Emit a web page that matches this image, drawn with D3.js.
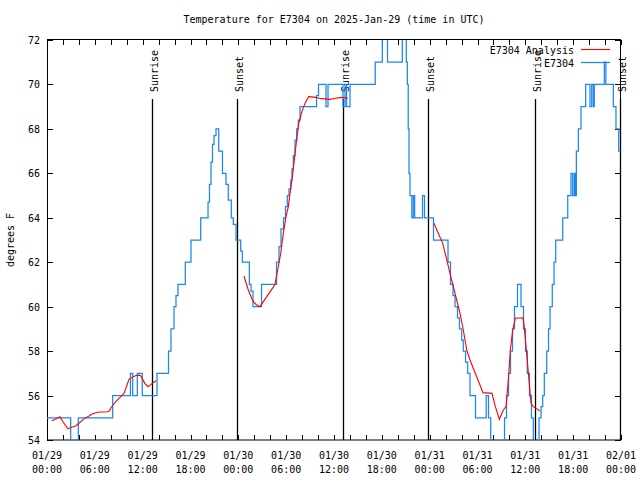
<!DOCTYPE html>
<html><head><meta charset="utf-8">
<script src="https://cdn.jsdelivr.net/npm/d3@7"></script>
<style>
body{margin:0;background:#fff}
svg{display:block;background:#fff}
text{font-family:"DejaVu Sans Mono","Liberation Mono",monospace;font-size:10px;fill:#000}
</style>
</head><body><svg id="c" width="640" height="480"></svg>
<script>
// ---- data (hours since 2025-01-29 00:00 UTC) ----
const blueHours = [0,2.97,3.16,3.68,3.93,8.24,10.47,10.75,11.33,11.95,13.8,15.24,15.55,15.93,16.18,16.43,17.35,18.06,19.28,20.2,20.38,20.57,20.76,20.95,21.2,21.54,22.01,22.45,22.74,23.12,23.37,23.71,24.3,24.5,25.38,25.59,25.84,26.91,28.79,29.1,29.35,29.67,29.92,30.14,30.36,30.57,30.73,30.9,31.11,31.32,31.52,31.74,33.81,34.06,35.0,35.25,37.13,37.38,37.57,38.01,41.17,42.06,42.71,44.57,45.07,45.2,45.31,45.41,45.53,45.76,45.95,46.12,47.1,47.35,48.48,50.3,50.61,50.93,51.18,51.49,51.74,52.02,52.22,52.5,52.77,53.06,53.75,55.09,55.38,55.66,55.95,57.39,57.64,57.89,58.14,58.39,58.64,59.02,59.46,59.77,60.02,60.25,60.52,60.77,61.0,61.72,61.97,62.18,62.38,62.68,62.91,63.1,63.38,63.6,63.81,64.69,65.32,65.73,65.94,66.14,66.27,66.4,66.65,66.98,67.57,68.11,68.33,68.53,68.65,69.91,70.1,71.04,71.37,71.71,71.94];
const blueTemps = [55,54,53,54,55,56,57,56,57,56,57,58,59,60,60.5,61,62,63,64,64.7,65.5,66.5,67.3,67.7,68,67,66,65.5,64.8,64,63.7,63,62.5,62,61,60.7,60,61,62,62.7,63.5,64,64.5,65,65.3,65.7,66.2,66.8,67.5,68,68.4,69,69.5,70,69,70,69,70,69,70,71,73,71,73,71,70,68,66,65,64,65,64,65,64,63,62,61,60.5,60,59.5,59,58.5,58,57.5,57,56,55,56,55,54,53,55,56,57,58,59,60,61,60,59,58,57,56,55,53,55,55.5,56,57,58,59,60,61,62,63,64,65,66,65,66,65,67,68,69,70,69,70,69,70,71,70,69,68,67,67];

// analysis series; null marks a gap
const redHours = [0.59,1.09,1.63,2.04,2.63,3.05,3.6,4.14,4.64,5.27,5.68,6.31,7.56,7.78,8.19,8.59,9.66,10.29,10.79,11.2,11.63,11.83,12.26,12.67,12.88,13.3,13.71,
  null,
  24.71,25.25,25.8,26.22,26.72,27.56,28.19,28.6,29.01,29.32,29.64,29.98,30.27,30.48,30.69,30.9,31.11,31.55,31.99,32.4,32.83,33.46,34.5,35.5,36.16,37.0,37.76,
  null,
  48.54,49.08,49.64,50.05,50.55,50.97,51.39,51.81,52.22,52.65,53.06,53.47,54.06,54.69,55.82,56.24,56.74,57.24,57.58,57.87,58.12,58.42,58.74,59.67,59.8,60.09,60.42,60.71,61.0,61.55,61.84];
const redTemps = [54.87,54.95,55.05,54.8,54.5,54.57,54.63,54.8,54.95,55.08,55.17,55.25,55.27,55.3,55.53,55.72,56.1,56.73,56.85,56.9,56.92,56.85,56.55,56.4,56.45,56.58,56.67,
  null,
  61.38,60.75,60.27,60.1,60.0,60.45,60.78,61.0,61.8,62.4,63.3,64.05,64.5,65.1,65.6,66.2,66.9,68.2,68.8,69.18,69.45,69.43,69.36,69.33,69.38,69.42,69.38,
  null,
  63.75,63.3,62.85,62.25,61.5,60.9,60.3,59.7,58.95,58.05,57.6,57.23,56.7,56.13,56.1,55.5,54.93,55.35,55.5,56.7,58.05,58.95,59.48,59.5,59.3,58.2,56.85,55.65,55.5,55.38,55.3];

const eventHours = [13.2, 23.87, 37.18, 47.84, 61.22, 71.87];
const eventLabels = ["Sunrise","Sunset","Sunrise","Sunset","Sunrise","Sunset"];

const xTickHours = [0,6,12,18,24,30,36,42,48,54,60,66,72];
const xTickDates = ["01/29","01/29","01/29","01/29","01/30","01/30","01/30","01/30","01/31","01/31","01/31","01/31","02/01"];
const xTickTimes = ["00:00","06:00","12:00","18:00","00:00","06:00","12:00","18:00","00:00","06:00","12:00","18:00","00:00"];
const xMinorHours = d3.range(0, 73, 2);
const yTicks = [54,56,58,60,62,64,66,68,70,72];

const seriesNames = ["E7304 Analysis","E7304"];
const seriesColors = ["#ff0000","#1a88f0"];
const titleText = "Temperature for E7304 on 2025-Jan-29 (time in UTC)";
const yLabelText = "degrees F";

// ---- layout ----
const L = 47, R = 621, T = 40, B = 440;
const svg = d3.select("#c");
const x = d3.scaleLinear().domain([0,72]).range([L,R]);
const y = d3.scaleLinear().domain([54,72]).range([B,T]);

svg.append("defs").append("clipPath").attr("id","clip")
  .append("rect").attr("x",L).attr("y",T).attr("width",R-L).attr("height",B-T);

// axes (ticks inward, mirrored)
const gl = svg.append("g").attr("transform",`translate(${L},0)`)
  .call(d3.axisLeft(y).tickValues(yTicks).tickSize(-6).tickPadding(7).tickFormat(d3.format("d")));
const gr = svg.append("g").attr("transform",`translate(${R},0)`)
  .call(d3.axisRight(y).tickValues(yTicks).tickSize(-6).tickFormat(""));
const gb = svg.append("g").attr("transform",`translate(0,${B})`)
  .call(d3.axisBottom(x).tickValues(xMinorHours).tickSize(-5).tickFormat(""));
const gt = svg.append("g").attr("transform",`translate(0,${T})`)
  .call(d3.axisTop(x).tickValues(xMinorHours).tickSize(-5).tickFormat(""));
[gl,gr,gb,gt].forEach(g=>{
  g.select(".domain").remove();
  g.selectAll("line").attr("stroke","#000").attr("shape-rendering","crispEdges");
  g.selectAll("text").attr("font-family",null).attr("font-size",null).attr("fill","#000");
});
gl.selectAll("text").attr("dy","0.35em");

// x tick labels (two lines)
const xl = svg.append("g");
xl.selectAll("text.d").data(xTickHours).join("text")
  .attr("x",d=>x(d)).attr("y",459).attr("text-anchor","middle")
  .text((d,i)=>xTickDates[i]);
xl.selectAll("text.t").data(xTickHours).join("text")
  .attr("x",d=>x(d)).attr("y",473).attr("text-anchor","middle")
  .text((d,i)=>xTickTimes[i]);

// border
svg.append("rect").attr("x",L+0.5).attr("y",T-0.5).attr("width",R-L-1).attr("height",B-T+0.5)
  .attr("fill","none").attr("stroke","#000").attr("stroke-width",1);

// title & y label
svg.append("text").attr("x",(L+R)/2).attr("y",23).attr("text-anchor","middle").text(titleText);
svg.append("text").attr("transform","translate(14,240) rotate(-90)").attr("text-anchor","middle").text(yLabelText);

// sunrise/sunset lines
const ev = svg.append("g");
ev.selectAll("line").data(eventHours).join("line")
  .attr("x1",d=>Math.round(x(d))+0.5).attr("x2",d=>Math.round(x(d))+0.5)
  .attr("y1",99).attr("y2",B).attr("stroke","#000").attr("stroke-width",1.3);
ev.selectAll("text").data(eventHours).join("text")
  .attr("transform",d=>`translate(${Math.round(x(d))+5.5},92) rotate(-90)`)
  .attr("text-anchor","start").text((d,i)=>eventLabels[i]);

// series
const plot = svg.append("g").attr("clip-path","url(#clip)");
const blueData = blueHours.map((h,i)=>[h,blueTemps[i]]);
const redData = redHours.map((h,i)=>[h,redTemps[i]]);

plot.append("path").datum(blueData)
  .attr("d", d3.line().x(d=>x(d[0])).y(d=>y(d[1])).curve(d3.curveStepAfter))
  .attr("fill","none").attr("stroke",seriesColors[1]).attr("stroke-width",1.25);
plot.append("path").datum(redData)
  .attr("d", d3.line().defined(d=>d[0]!==null && d[1]!==null).x(d=>x(d[0])).y(d=>y(d[1])))
  .attr("fill","none").attr("stroke",seriesColors[0]).attr("stroke-width",1.1);

// legend
const lg = svg.append("g");
seriesNames.forEach((n,i)=>{
  const by = 54 + i*13;
  lg.append("text").attr("x",574).attr("y",by).attr("text-anchor","end").text(n);
  lg.append("line").attr("x1",581).attr("x2",610).attr("y1",by-4.5).attr("y2",by-4.5)
    .attr("stroke",seriesColors[i]).attr("stroke-width",i===0?1.1:1.25);
});
</script>
</body></html>
